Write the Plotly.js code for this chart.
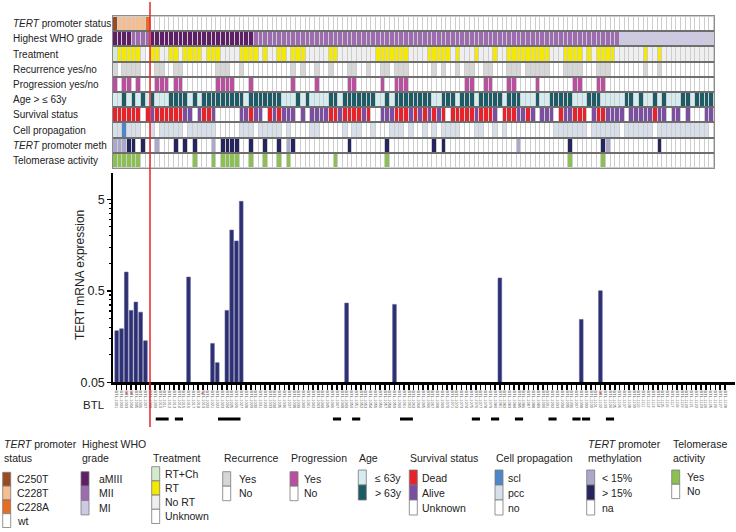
<!DOCTYPE html>
<html><head><meta charset="utf-8">
<script src="https://cdn.plot.ly/plotly-3.0.1.min.js"></script>
<style>html,body{margin:0;padding:0;background:#fff}#chart{width:736px;height:532px}</style>
</head><body><div id="chart"></div>
<script>
const W = 736, H = 532;
const FONT = 'Liberation Sans, Arial, Helvetica, sans-serif';

// ---------- heatmap rows (run-length: [code, count]) ----------
const rowLabels = ['<i>TERT</i> promoter status','Highest WHO grade','Treatment','Recurrence yes/no',
  'Progression yes/no','Age > ≤ 63y','Survival status','Cell propagation','<i>TERT</i> promoter meth','Telomerase activity'];

const tertStatusRuns = [['B',1],['T',6],['A',1],['w',120]];
const whoGradeRuns = [['D',4],['M',4],['D',22],['M',78],['m',20]];
const treatmentRuns = [['G',1],['Y',5],['N',1],['U',1],['Y',2],['N',2],['Y',2],['N',1],['Y',4],['N',1],['Y',3],['N',4],['Y',4],['N',1],['Y',1],['N',2],['Y',2],['N',1],['Y',3],['N',5],['Y',2],['N',8],['Y',7],['N',4],['Y',5],['N',1],['Y',1],['N',3],['Y',1],['N',3],['Y',1],['N',2],['Y',9],['N',3],['Y',4],['N',1],['Y',1],['N',1],['Y',4],['N',6],['Y',1],['N',2],['Y',1],['N',11]];
const recurrenceRuns = [['Y',1],['N',1],['Y',4],['N',3],['Y',2],['N',2],['Y',2],['N',7],['Y',3],['N',2],['Y',1],['N',10],['Y',1],['N',1],['Y',1],['N',2],['Y',1],['N',2],['Y',1],['N',3],['Y',2],['N',2],['Y',1],['N',2],['Y',2],['N',1],['Y',3],['N',5],['Y',1],['N',1],['Y',1],['N',2],['Y',1],['N',1],['Y',2],['N',2],['Y',2],['N',3],['Y',3],['N',1],['Y',5],['N',3],['Y',4],['N',3],['Y',3],['N',7],['Y',1],['N',2],['Y',1],['N',11]];
const progressionRuns = [['Y',1],['N',1],['Y',2],['N',1],['Y',1],['N',3],['Y',3],['N',1],['Y',2],['N',7],['Y',4],['N',3],['Y',1],['N',8],['Y',1],['N',4],['Y',1],['N',6],['Y',2],['N',5],['Y',1],['N',2],['Y',3],['N',12],['Y',2],['N',2],['Y',2],['N',3],['Y',2],['N',4],['Y',1],['N',7],['Y',2],['N',3],['Y',2],['N',23]];
const ageRuns = [['l',2],['h',1],['l',1],['h',1],['l',1],['h',1],['l',1],['h',1],['l',3],['h',4],['l',1],['h',1],['l',1],['h',9],['l',1],['h',7],['l',3],['h',1],['l',1],['h',1],['l',4],['h',2],['l',1],['h',7],['l',2],['h',1],['l',1],['h',8],['l',2],['h',3],['l',1],['h',3],['l',1],['h',5],['l',1],['h',3],['l',3],['h',1],['l',2],['h',5],['l',3],['h',3],['l',5],['h',2],['l',1],['h',1],['l',2],['h',1],['l',1],['h',1],['l',3],['h',2],['l',1],['h',4]];
const survivalRuns = [['d',6],['u',1],['d',1],['a',1],['d',6],['a',2],['u',1],['a',1],['d',2],['a',1],['u',5],['a',2],['d',1],['a',2],['u',1],['d',1],['a',1],['d',1],['a',3],['u',1],['a',1],['u',1],['a',4],['d',2],['a',1],['d',4],['a',1],['d',1],['u',2],['a',3],['d',3],['a',1],['d',1],['a',1],['d',1],['a',1],['d',1],['a',1],['d',1],['u',1],['d',5],['a',1],['d',3],['a',1],['u',1],['d',3],['a',2],['d',1],['a',1],['u',1],['a',3],['u',1],['d',1],['a',2],['d',3],['u',1],['a',1],['d',2],['a',4],['u',1],['a',5],['d',1],['a',2],['u',1],['a',2],['u',1],['a',1],['u',3],['a',2]];
const cellPropRuns = [['p',2],['s',1],['p',3],['n',2],['p',1],['n',1],['p',5],['n',1],['p',6],['n',5],['p',3],['n',1],['p',5],['n',1],['p',1],['n',4],['p',2],['n',5],['p',1],['n',1],['p',2],['n',2],['p',1],['n',3],['p',3],['n',1],['p',1],['n',2],['p',1],['n',1],['p',1],['n',1],['p',4],['n',3],['p',2],['n',2],['p',1],['n',1],['p',1],['n',10],['p',7],['n',1],['p',6],['n',1],['p',6],['n',1],['p',11],['n',1]];
const methRuns = [['q',3],['v',2],['n',1],['v',1],['n',2],['q',1],['n',3],['v',1],['n',1],['v',1],['n',1],['v',1],['n',3],['q',1],['n',1],['v',4],['n',2],['v',1],['n',2],['v',1],['n',2],['v',1],['n',1],['q',1],['v',1],['n',11],['v',1],['n',7],['v',1],['n',9],['v',1],['n',1],['v',1],['n',15],['q',1],['n',10],['v',1],['n',6],['v',1],['q',1],['n',10],['v',1],['n',11]];
const telomeraseRuns = [['g',6],['n',11],['g',1],['n',3],['g',1],['n',1],['g',4],['n',2],['g',1],['n',2],['g',1],['n',2],['g',1],['n',1],['g',1],['n',9],['g',1],['n',10],['g',1],['n',38],['g',1],['n',6],['g',1],['n',23]];

// colour per code, per row
const rowColors = [
  {B:'#9a4a22',T:'#f8bd8e',A:'#e66d24',w:'#ffffff'},
  {D:'#5f1f66',M:'#9d6cb0',m:'#cdc8e3'},
  {G:'#d3ebcc',Y:'#f4e900',N:'#efefef',U:'#ffffff'},
  {Y:'#d6d6d6',N:'#ffffff'},
  {Y:'#bb4f9f',N:'#ffffff'},
  {l:'#d5edf0',h:'#1f5b66'},
  {d:'#e8222b',a:'#7b4ea2',u:'#ffffff'},
  {s:'#4d87c7',p:'#d6dfea',n:'#ffffff'},
  {q:'#aba8cb',v:'#25245d',n:'#ffffff'},
  {g:'#8cc152',n:'#ffffff'}
];
const rowRuns = [tertStatusRuns, whoGradeRuns, treatmentRuns, recurrenceRuns, progressionRuns,
  ageRuns, survivalRuns, cellPropRuns, methRuns, telomeraseRuns];

// ---------- bar chart ----------
const nSamples = 128;
const sampleIds = Array.from({length: nSamples}, (_, i) => 'BTL-' + String(1001 + i));
const barCols = [0,1,2,3,4,5,6,15,20,21,23,24,25,26,48,58,80,97,101];
const barVals = [0.183,0.192,0.80,0.305,0.376,0.292,0.142,0.706,0.133,0.082,0.305,2.30,1.75,4.74,0.367,0.355,0.69,0.243,0.50];
const asteriskCols = [2,3,18,101];
const sameGroups = [[8,10],[12,13],[21,25],[45,46],[49,50],[59,61],[74,75],[78,79],[83,84],[90,91],[95,96],[97,98],[102,103]];

// ---------- legend ----------
const legendGroups = [
  {title:'<i>TERT</i> promoter<br>status', items:[['C250T','#9a4a22'],['C228T','#f8bd8e'],['C228A','#e66d24'],['wt','#ffffff']]},
  {title:'Highest WHO<br>grade', items:[['aMIII','#5f1f66'],['MII','#9d6cb0'],['MI','#cdc8e3']]},
  {title:'Treatment', items:[['RT+Ch','#d3ebcc'],['RT','#f4e900'],['No RT','#efefef'],['Unknown','#ffffff']]},
  {title:'Recurrence', items:[['Yes','#d6d6d6'],['No','#ffffff']]},
  {title:'Progression', items:[['Yes','#bb4f9f'],['No','#ffffff']]},
  {title:'Age', items:[['≤ 63y','#d5edf0'],['> 63y','#1f5b66']]},
  {title:'Survival status', items:[['Dead','#e8222b'],['Alive','#7b4ea2'],['Unknown','#ffffff']]},
  {title:'Cell propagation', items:[['scl','#4d87c7'],['pcc','#d6dfea'],['no','#ffffff']]},
  {title:'<i>TERT</i> promoter<br>methylation', items:[['< 15%','#aba8cb'],['> 15%','#25245d'],['na','#ffffff']]},
  {title:'Telomerase<br>activity', items:[['Yes','#8cc152'],['No','#ffffff']]}
];
// layout of legend (pixels)
const legSwatchX = [2.7, 81, 151.7, 222.7, 290, 358.3, 409.3, 495, 586.7, 671.7];
const legLabelX  = [15, 96.7, 163.3, 236.7, 301.7, 373.3, 420, 506, 600, 685];
const legTop     = [472.3, 471.7, 466.7, 471.7, 471.7, 470, 470, 470, 470, 470];
const legItemH   = [13.8, 14.4, 14.2, 14.5, 14.5, 15, 15, 15, 15, 14.3];

// ---------- build heatmap matrix ----------
function expand(runs){ const o=[]; runs.forEach(([c,n])=>{for(let i=0;i<n;i++) o.push(c);}); return o; }
const palette = []; const idx = [];
rowColors.forEach((m, r) => { idx[r] = {}; Object.keys(m).forEach(k => { idx[r][k] = palette.length; palette.push(m[k]); }); });
const z = rowRuns.map((runs, r) => { const e = expand(runs); if (e.length !== nSamples) console.warn('row', r, e.length); return e.map(c => idx[r][c]); });
const nC = palette.length;
const colorscale = [];
palette.forEach((c, i) => { colorscale.push([i/nC, c]); colorscale.push([(i+1)/nC, c]); });

const px = v => v / W, py = v => 1 - v / H;

const traces = [
  { type:'heatmap', z: z, x: Array.from({length:nSamples},(_,i)=>i), y: rowLabels.map((_,i)=>i),
    colorscale: colorscale, zmin: -0.5, zmax: nC - 0.5, showscale: false, xgap: 1, ygap: 2,
    hoverinfo: 'skip', xaxis: 'x', yaxis: 'y' },
  { type:'bar', x: barCols, y: barVals, xaxis: 'x2', yaxis: 'y2',
    marker: { color: '#2d2f73', line: { color: '#5c5e96', width: 0.6 } }, hoverinfo: 'skip' }
];

const annotations = [];
rowLabels.forEach((t, i) => annotations.push({ xref:'paper', yref:'y', x: px(11), y: i, xanchor:'left', yanchor:'middle',
  text: t, showarrow:false, font:{ family: FONT, size: 10, color:'#222' } }));
annotations.push({ xref:'paper', yref:'paper', x: px(80), y: py(275), text:'TERT mRNA expression', textangle:-90,
  showarrow:false, font:{ family: FONT, size: 12, color:'#222' }, xanchor:'center', yanchor:'middle' });
annotations.push({ xref:'paper', yref:'paper', x: px(81), y: py(405), text:'BTL', xanchor:'left', yanchor:'middle',
  showarrow:false, font:{ family: FONT, size: 11.5, color:'#222' } });
asteriskCols.forEach(c => annotations.push({ xref:'x2', yref:'paper', x: c, y: py(395), text:'*', showarrow:false,
  xanchor:'center', yanchor:'middle', font:{ family: FONT, size: 8, color:'#ee3333' } }));

const shapes = [
  { type:'rect', xref:'x domain', yref:'y domain', x0:0, x1:1, y0:0, y1:1, fillcolor:'#cdcdcd', line:{width:0}, layer:'below' }
];
sameGroups.forEach(([a,b]) => shapes.push({ type:'line', xref:'x2', yref:'paper', x0: a + 0.15, x1: b + 0.85,
  y0: py(419), y1: py(419), line:{ color:'#000', width: 3 } }));
shapes.push({ type:'line', xref:'paper', yref:'paper', x0: px(150), x1: px(150), y0: py(2), y1: py(427),
  line:{ color:'#e8262a', width: 1.5 }, layer:'above' });

legendGroups.forEach((g, gi) => {
  annotations.push({ xref:'paper', yref:'paper', x: px(legSwatchX[gi] - 1), y: py(465.5), xanchor:'left', yanchor:'bottom',
    align:'left', text: g.title, showarrow:false, font:{ family: FONT, size: 10.5, color:'#222' } });
  g.items.forEach(([lab, col], j) => {
    const t = legTop[gi] + j * legItemH[gi];
    shapes.push({ type:'rect', xref:'paper', yref:'paper', x0: px(legSwatchX[gi]), x1: px(legSwatchX[gi] + 8),
      y0: py(t + legItemH[gi]), y1: py(t), fillcolor: col, line:{ color:'#7a7a7a', width: 0.8 } });
    annotations.push({ xref:'paper', yref:'paper', x: px(legLabelX[gi]), y: py(t + legItemH[gi]/2), xanchor:'left', yanchor:'middle',
      text: lab, showarrow:false, font:{ family: FONT, size: 10.5, color:'#222' } });
  });
});

const layout = {
  width: W, height: H, margin:{ l:0, r:0, t:0, b:0 }, paper_bgcolor:'#fff', plot_bgcolor:'rgba(0,0,0,0)',
  showlegend:false, bargap: 0.23, font:{ family: FONT },
  xaxis: { domain:[px(113), px(714)], range:[-0.5, nSamples - 0.5], anchor:'y', showticklabels:false, ticks:'',
    showgrid:false, zeroline:false, showline:true, mirror:true, linecolor:'#8c8c8c', linewidth:1, fixedrange:true },
  yaxis: { domain:[py(168), py(16)], range:[9.5, -0.5], anchor:'x', showticklabels:false, ticks:'',
    tickmode:'array', tickvals:[0.5,1.5,2.5,3.5,4.5,5.5,6.5,7.5,8.5], showgrid:true, gridcolor:'#6e6e6e', gridwidth:2,
    zeroline:false, showline:true, mirror:true, linecolor:'#8c8c8c', linewidth:1, fixedrange:true },
  xaxis2: { domain:[px(113.3), px(735)], range:[-0.71, 129.1], anchor:'y2', tickmode:'array',
    tickvals: sampleIds.map((_,i)=>i), ticktext: sampleIds, tickangle: 90, tickfont:{ family: FONT, size: 4, color:'#555' },
    ticks:'outside', ticklen:5, tickwidth:1.5, tickcolor:'#000', showline:true, linewidth:2.5, linecolor:'#000',
    showgrid:false, zeroline:false, fixedrange:true },
  yaxis2: { type:'log', domain:[py(382.3), py(172.5)], range:[Math.log10(0.05), Math.log10(9.8)], anchor:'x2',
    tickmode:'array', tickvals:[0.05,0.5,5], ticktext:['0.05','0.5','5'], ticks:'outside', ticklen:4, tickwidth:1.5,
    tickcolor:'#000', showline:true, linewidth:2, linecolor:'#000', showgrid:false, zeroline:false,
    ticklabelstandoff: 0,
    tickfont:{ family: FONT, size: 12.5, color:'#222' },
    minor:{ tickmode:'array', tickvals:[0.1,0.15,0.2,0.25,0.3,0.35,0.4,0.45,1,1.5,2,2.5,3,3.5,4,4.5,10],
      ticks:'outside', ticklen:2.5, tickwidth:1.2, tickcolor:'#000', showgrid:false }, fixedrange:true },
  annotations: annotations, shapes: shapes
};

Plotly.newPlot('chart', traces, layout, { staticPlot: true, displayModeBar: false });
</script></body></html>
